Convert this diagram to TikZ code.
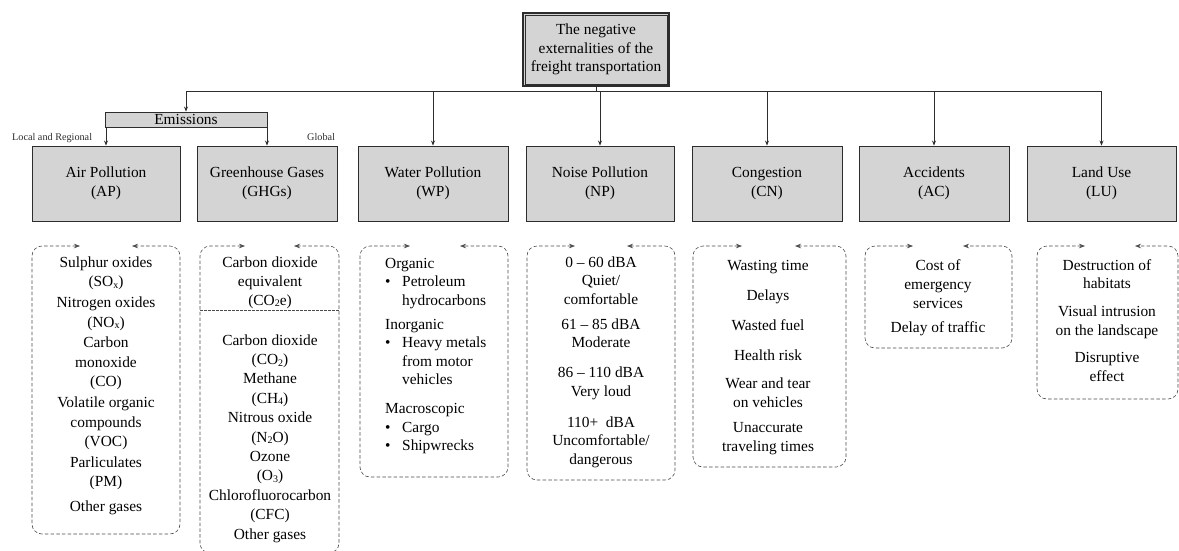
\documentclass[tikz,border=0pt]{standalone}
\usepackage{fontspec}
\setmainfont{Liberation Serif}
\usetikzlibrary{arrows.meta}
\definecolor{boxfill}{RGB}{212,212,212}
\definecolor{ink}{RGB}{45,45,45}
\definecolor{dashink}{RGB}{75,75,75}
\newcommand\dn[1]{\raisebox{-0.2ex}{\fontsize{10}{10}\selectfont #1}}
\newcommand\bul{\makebox[17pt][l]{\textbullet}}
\newcommand\ind{\hspace*{17pt}}
\newcommand\fsz[1]{\fontsize{15.4}{#1}\selectfont}
\begin{document}
\begin{tikzpicture}[x=1pt,y=-1pt,
 catbox/.style={draw=ink, line width=0.9pt, fill=boxfill, inner sep=0, align=center, font=\fsz{19}, minimum height=75pt},
 conn/.style={draw=ink, line width=0.7pt, -{Stealth[length=5pt,width=4pt]}},
 dbox/.style={draw=dashink, line width=0.6pt, dash pattern=on 3.5pt off 2.2pt, rounded corners=10pt, {Stealth[length=6pt,width=4.5pt]}-{Stealth[length=6pt,width=4.5pt]}},
 tx/.style={anchor=north, inner sep=0, align=center},
 side/.style={inner sep=0, anchor=base west, font=\fontsize{10.2}{12}\selectfont, text=ink}]
\useasboundingbox (0,0) rectangle (1179,550);

% title
\node[catbox, line width=1.4pt, minimum width=146pt, minimum height=73pt, font=\fsz{18.5}] (title) at (596,49.5) {The negative\\externalities of the\\freight transportation};
\draw[ink, line width=0.5pt] ([xshift=2.5pt,yshift=-2.5pt]title.north west) rectangle ([xshift=-2.5pt,yshift=2.5pt]title.south east);

% emissions bar
\node[catbox, minimum width=162pt, minimum height=15pt, font=\fsz{15}] (em) at (186,119.5) {Emissions};

% category boxes
\node[catbox, minimum width=148pt] (ap) at (106,183.5) {Air Pollution\\(AP)};
\node[catbox, minimum width=140pt] (ghg) at (267,183.5) {Greenhouse Gases\\(GHGs)};
\node[catbox, minimum width=150pt] (wp) at (433,183.5) {Water Pollution\\(WP)};
\node[catbox, minimum width=148pt] (np) at (600,183.5) {Noise Pollution\\(NP)};
\node[catbox, minimum width=150pt] (cn) at (767,183.5) {Congestion\\(CN)};
\node[catbox, minimum width=150pt] (ac) at (934,183.5) {Accidents\\(AC)};
\node[catbox, minimum width=149pt] (lu) at (1101.5,183.5) {Land Use\\(LU)};

% side labels
\node[side] (lr) at (12,140) {Local and Regional};
\node[side] (gl) at (307,140) {Global};

% connectors
\coordinate (hub) at (596,91);
\draw[ink, line width=0.7pt] (title.south) -- (hub);
\draw[conn] (hub) -| (em.north);
\draw[conn] (hub) -| (wp.north);
\draw[conn] (hub) -| (np.north);
\draw[conn] (hub) -| (cn.north);
\draw[conn] (hub) -| (ac.north);
\draw[conn] (hub) -| (lu.north);
\draw[conn] (em.south -| ap.north) -- (ap.north);
\draw[conn] (em.south -| ghg.north) -- (ghg.north);

% dashed boxes
\draw[dbox] (80,246) -- (32,246) -- (32,534) -- (180,534) -- (180,246) -- (132,246);
\draw[dbox] (245,246) -- (200,246) -- (200,553) -- (339,553) -- (339,246) -- (294,246);
\draw[draw=dashink, line width=0.6pt, dash pattern=on 2.5pt off 1.5pt] (200,310) -- (339,310);
\draw[dbox] (410,246) -- (360,246) -- (360,477) -- (508,477) -- (508,246) -- (460,246);
\draw[dbox] (575,246) -- (527,246) -- (527,480) -- (675,480) -- (675,246) -- (627,246);
\draw[dbox] (742,246) -- (693,246) -- (693,467) -- (846,467) -- (846,246) -- (795,246);
\draw[dbox] (913,246) -- (865,246) -- (865,348) -- (1012,348) -- (1012,246) -- (963,246);
\draw[dbox] (1085,246) -- (1037,246) -- (1037,399) -- (1178,399) -- (1178,246) -- (1135,246);

% texts
\node[tx, font=\fsz{19.6}] (apt) at (106,253.3) {\strut Sulphur oxides\\(SO\dn{x})\\[1pt]Nitrogen oxides\\(NO\dn{x})\\[1pt]Carbon\\monoxide\\(CO)\\[1pt]Volatile organic\\compounds\\(VOC)\\[1pt]Parliculates\\(PM)\\[5pt]Other gases};
\node[tx, font=\fsz{19}] (ghgta) at (270,253.7) {\strut Carbon dioxide\\equivalent\\(CO\dn{2}e)};
\node[tx, font=\fsz{19.4}] (ghgtb) at (270,331.4) {\strut Carbon dioxide\\(CO\dn{2})\\Methane\\(CH\dn{4})\\Nitrous oxide\\(N\dn{2}O)\\Ozone\\(O\dn{3})\\Chlorofluorocarbon\\(CFC)\\Other gases};
\node[tx, anchor=north west, align=left, font=\fsz{18.6}] (wpt) at (385,255) {\strut Organic\\\bul Petroleum\\\ind hydrocarbons\\[5pt]Inorganic\\\bul Heavy metals\\\ind from motor\\\ind vehicles\\[10pt]Macroscopic\\\bul Cargo\\\bul Shipwrecks};
\node[tx, font=\fsz{18.7}] (npt) at (601,253.9) {\strut 0 – 60 dBA\\Quiet/\\comfortable\\[6pt]61 – 85 dBA\\Moderate\\[11pt]86 – 110 dBA\\Very loud\\[12pt]110+\ \ dBA\\Uncomfortable/\\dangerous};
\node[tx, font=\fsz{19}] (cnt) at (768,256.7) {\strut Wasting time\\[11pt]Delays\\[11pt]Wasted fuel\\[11pt]Health risk\\[9pt]Wear and tear\\on vehicles\\[6pt]Unaccurate\\traveling times};
\node[tx, font=\fsz{19}] (act) at (938,256.7) {\strut Cost of\\emergency\\services\\[5pt]Delay of traffic};
\node[tx, font=\fsz{18.6}] (lut) at (1107,257) {\strut Destruction of\\habitats\\[9pt]Visual intrusion\\on the landscape\\[9pt]Disruptive\\effect};
\end{tikzpicture}
\end{document}
